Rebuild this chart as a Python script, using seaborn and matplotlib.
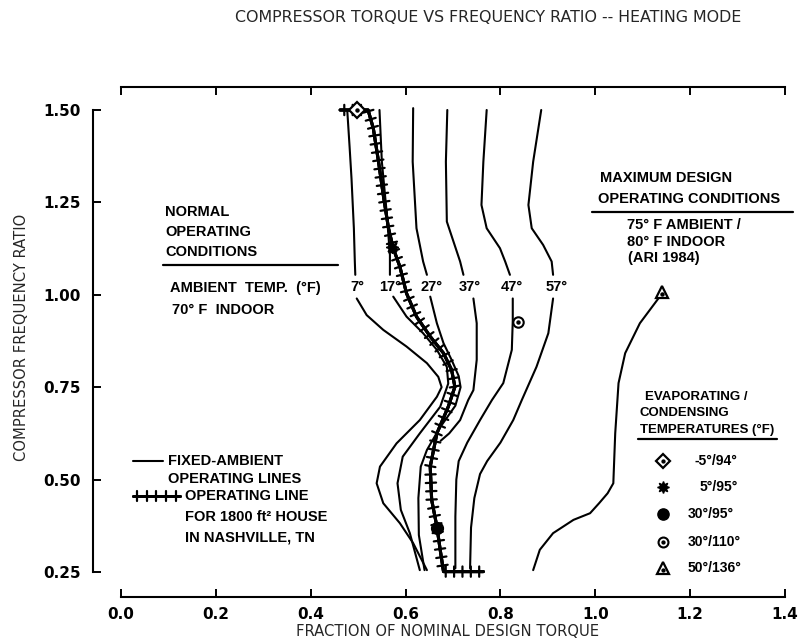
import matplotlib
matplotlib.use("Agg")
import matplotlib.pyplot as plt
import matplotlib.patheffects as pe
from matplotlib.lines import Line2D
import seaborn as sns

# ---------------------------------------------------------------- data
# fixed-ambient operating lines (fraction of nominal torque vs frequency ratio);
# each line is drawn in two pieces, broken where its temperature label sits
t7_up_x = [0.477, 0.482, 0.486, 0.491, 0.493, 0.494]
t7_up_y = [1.500, 1.400, 1.315, 1.180, 1.090, 1.054]
t7_lo_x = [0.497, 0.518, 0.553, 0.602, 0.645, 0.669, 0.676, 0.666, 0.630, 0.581,
           0.546, 0.539, 0.553, 0.588, 0.616, 0.645]
t7_lo_y = [0.990, 0.945, 0.905, 0.860, 0.815, 0.778, 0.750, 0.724, 0.661, 0.598,
           0.535, 0.490, 0.436, 0.382, 0.328, 0.255]

t17_up_x = [0.545, 0.550, 0.560, 0.567, 0.567]
t17_up_y = [1.500, 1.360, 1.225, 1.108, 1.054]
t17_lo_x = [0.574, 0.602, 0.637, 0.666, 0.687, 0.690, 0.673, 0.630, 0.594, 0.583,
            0.590, 0.609, 0.630]
t17_lo_y = [0.995, 0.941, 0.896, 0.851, 0.805, 0.760, 0.697, 0.625, 0.562, 0.490,
            0.418, 0.355, 0.255]

t27_up_x = [0.616, 0.615, 0.623, 0.637, 0.645]
t27_up_y = [1.505, 1.360, 1.180, 1.090, 1.054]
t27_lo_x = [0.652, 0.666, 0.680, 0.697, 0.712, 0.716, 0.705, 0.672, 0.645, 0.632,
            0.627, 0.628, 0.640]
t27_lo_y = [0.995, 0.923, 0.869, 0.824, 0.780, 0.750, 0.700, 0.640, 0.580, 0.535,
            0.450, 0.350, 0.255]

t37_up_x = [0.688, 0.685, 0.687, 0.701, 0.715, 0.722]
t37_up_y = [1.500, 1.360, 1.198, 1.144, 1.090, 1.054]
t37_lo_x = [0.743, 0.750, 0.750, 0.743, 0.732, 0.715, 0.692, 0.674]
t37_lo_y = [0.990, 0.923, 0.824, 0.742, 0.715, 0.661, 0.625, 0.605]

t47_up_x = [0.771, 0.764, 0.760, 0.771, 0.799, 0.810, 0.820]
t47_up_y = [1.500, 1.360, 1.243, 1.180, 1.126, 1.090, 1.054]
t47_lo_x = [0.826, 0.826, 0.824, 0.806, 0.782, 0.757, 0.730, 0.712, 0.707, 0.705,
            0.705]
t47_lo_y = [0.990, 0.930, 0.851, 0.761, 0.715, 0.661, 0.600, 0.550, 0.500, 0.400,
            0.260]

t57_up_x = [0.886, 0.869, 0.859, 0.866, 0.890, 0.908, 0.911]
t57_up_y = [1.500, 1.360, 1.243, 1.180, 1.135, 1.090, 1.054]
t57_lo_x = [0.911, 0.901, 0.876, 0.845, 0.827, 0.800, 0.772, 0.757, 0.745, 0.738,
            0.736]
t57_lo_y = [0.990, 0.896, 0.805, 0.715, 0.661, 0.600, 0.550, 0.515, 0.450, 0.370,
            0.260]

# maximum design condition line (75 F ambient / 80 F indoor)
max_x = [1.140, 1.133, 1.094, 1.063, 1.049, 1.042, 1.038, 1.026, 1.008, 0.989,
         0.954, 0.911, 0.883, 0.869]
max_y = [1.008, 0.990, 0.923, 0.842, 0.761, 0.625, 0.490, 0.463, 0.436, 0.409,
         0.391, 0.355, 0.310, 0.255]

# operating line for the 1800 ft2 house in Nashville
op_x = [0.462, 0.521, 0.532, 0.543, 0.553, 0.564, 0.574, 0.588, 0.602, 0.623,
        0.652, 0.680, 0.697, 0.704, 0.690, 0.666, 0.652, 0.655, 0.666, 0.673,
        0.680, 0.764]
op_y = [1.500, 1.500, 1.450, 1.360, 1.270, 1.180, 1.126, 1.076, 1.004, 0.941,
        0.887, 0.842, 0.797, 0.751, 0.697, 0.625, 0.535, 0.445, 0.373, 0.310,
        0.251, 0.251]

# evaporating / condensing temperature points
pt_labels = ["-5°/94°", "5°/95°", "30°/95°", "30°/110°", "50°/136°"]
pt_x = [0.497, 0.572, 0.667, 0.838, 1.140]
pt_y = [1.500, 1.130, 0.369, 0.927, 1.008]

amb_labels = ["7°", "17°", "27°", "37°", "47°", "57°"]
x_ticks = [0.0, 0.2, 0.4, 0.6, 0.8, 1.0, 1.2, 1.4]
x_tick_labels = ["0.0", "0.2", "0.4", "0.6", "0.8", "1.0", "1.2", "1.4"]
y_ticks = [0.25, 0.50, 0.75, 1.00, 1.25, 1.50]
y_tick_labels = ["0.25", "0.50", "0.75", "1.00", "1.25", "1.50"]

# ---------------------------------------------------------------- figure
W, H = 803, 644
sns.set_theme(style="white")
plt.rcParams["font.family"] = ["Liberation Sans", "DejaVu Sans"]

fig = plt.figure(figsize=(W / 100, H / 100), dpi=100)
fig.patch.set_facecolor("white")
ax = fig.add_axes([93 / W, (H - 597) / H, (790 - 93) / W, (597 - 87) / H])
ax.set_facecolor("white")
ax.set_xlim(-0.059, 1.4105)
ax.set_ylim(0.1823, 1.5622)


def fx(px):
    return px / W


def fy(py):
    return 1 - py / H


LW = 1.5
ink = "black"

segments = [
    (t7_up_x, t7_up_y), (t7_lo_x, t7_lo_y),
    (t17_up_x, t17_up_y), (t17_lo_x, t17_lo_y),
    (t27_up_x, t27_up_y), (t27_lo_x, t27_lo_y),
    (t37_up_x, t37_up_y), (t37_lo_x, t37_lo_y),
    (t47_up_x, t47_up_y), (t47_lo_x, t47_lo_y),
    (t57_up_x, t57_up_y), (t57_lo_x, t57_lo_y),
    (max_x, max_y),
]
for xs, ys in segments:
    sns.lineplot(x=xs, y=ys, sort=False, estimator=None, color=ink, lw=LW, ax=ax)

# operating line with cross-ties
ladder = [pe.withTickedStroke(spacing=6, angle=90, length=0.62, linewidth=1.6),
          pe.withTickedStroke(spacing=6, angle=-90, length=0.62, linewidth=1.6),
          pe.Normal()]
sns.lineplot(x=op_x, y=op_y, sort=False, estimator=None, color=ink, lw=2.2, ax=ax,
             path_effects=ladder)

# condition points
def draw_point(i, x, y, size=1.0):
    kw = dict(clip_on=False, zorder=5, ls="none")
    if i == 0:
        ax.plot(x, y, marker="D", ms=8 * size, mfc="white", mec=ink, mew=1.6, **kw)
        ax.plot(x, y, marker="o", ms=2.2 * size, color=ink, **kw)
    elif i == 1:
        ax.plot(x, y, marker=(8, 1, 0), ms=9 * size, color=ink, **kw)
    elif i == 2:
        ax.plot(x, y, marker="o", ms=8.5 * size, color=ink, **kw)
    elif i == 3:
        ax.plot(x, y, marker="o", ms=7.5 * size, mfc="white", mec=ink, mew=1.5, **kw)
        ax.plot(x, y, marker="o", ms=2.2 * size, color=ink, **kw)
    else:
        ax.plot(x, y, marker="^", ms=9 * size, mfc="white", mec=ink, mew=1.6, **kw)
        ax.plot(x, y - 0.006, marker="o", ms=2.2 * size, color=ink, **kw)


for i, (x, y) in enumerate(zip(pt_x, pt_y)):
    draw_point(i, x, y)

# ---------------------------------------------------------------- axes frame
for side in ["left", "bottom", "top"]:
    ax.spines[side].set_visible(True)
    ax.spines[side].set_color(ink)
    ax.spines[side].set_linewidth(1.5)
ax.spines["right"].set_visible(False)
ax.spines["left"].set_bounds(0.25, 1.5)
ax.spines["bottom"].set_bounds(0.0, 1.4)
ax.spines["top"].set_bounds(0.0, 1.4)

ax.set_xticks(x_ticks)
ax.set_xticklabels(x_tick_labels)
ax.set_yticks(y_ticks)
ax.set_yticklabels(y_tick_labels)
ax.tick_params(axis="x", direction="in", length=6, width=1.4, top=True,
               labeltop=False, bottom=True, pad=7, colors=ink, labelsize=11)
ax.tick_params(axis="y", direction="in", length=5.5, width=1.4, left=True,
               right=False, pad=9, colors=ink, labelsize=11)
for lbl in ax.get_xticklabels() + ax.get_yticklabels():
    lbl.set_fontfamily("DejaVu Sans")
    lbl.set_fontweight("bold")
ax.grid(False)

fig.text(fx(488), fy(18), "COMPRESSOR TORQUE VS FREQUENCY RATIO -- HEATING MODE",
         ha="center", va="center", fontsize=11.4, family="DejaVu Sans")
fig.text(fx(448), fy(632), "FRACTION OF NOMINAL DESIGN TORQUE",
         ha="center", va="center", fontsize=10.6, family="DejaVu Sans")
fig.text(fx(22), fy(337), "COMPRESSOR FREQUENCY RATIO", rotation=90,
         ha="center", va="center", fontsize=10.6, family="DejaVu Sans")

# ---------------------------------------------------------------- annotations
bold = dict(fontweight="bold", color=ink, va="center", ha="left")


def hline(x0, x1, y, lw=1.6):
    fig.add_artist(Line2D([fx(x0), fx(x1)], [fy(y), fy(y)], color=ink, lw=lw))


# normal operating conditions block
for txt, py in [("NORMAL", 212), ("OPERATING", 232), ("CONDITIONS", 252)]:
    fig.text(fx(165), fy(py), txt, fontsize=10.5, **bold)
hline(163, 338, 265)
fig.text(fx(170), fy(288), "AMBIENT  TEMP.  (°F)", fontsize=10.5, **bold)
fig.text(fx(172), fy(310), "70° F  INDOOR", fontsize=10.5, **bold)
for txt, px in zip(amb_labels, [357, 390, 432, 470, 512, 557]):
    fig.text(fx(px), fy(287), txt, fontsize=10.5, fontweight="bold",
             ha="center", va="center", color=ink)

# maximum design block
fig.text(fx(600), fy(178), "MAXIMUM DESIGN", fontsize=10.5, **bold)
fig.text(fx(598), fy(199), "OPERATING CONDITIONS", fontsize=10.5, **bold)
hline(592, 793, 212)
fig.text(fx(627), fy(225), "75° F AMBIENT /", fontsize=10.5, **bold)
fig.text(fx(627), fy(242), "80° F INDOOR", fontsize=10.5, **bold)
fig.text(fx(628), fy(258), "(ARI 1984)", fontsize=10.5, **bold)

# evaporating / condensing key
fig.text(fx(645), fy(397), "EVAPORATING /", fontsize=9.5, **bold)
fig.text(fx(640), fy(413), "CONDENSING", fontsize=9.5, **bold)
fig.text(fx(640), fy(430), "TEMPERATURES (°F)", fontsize=9.5, **bold)
hline(638, 777, 439)
key_y_px = [461, 487, 514, 542, 568]
key_lbl_px = [695, 700, 688, 688, 688]
for i, (lbl, py, lx) in enumerate(zip(pt_labels, key_y_px, key_lbl_px)):
    kx = (663 - 121) / 474.3
    ky = 1.5 - (py - 110) / 369.6
    draw_point(i, kx, ky, size=0.95)
    fig.text(fx(lx), fy(py), lbl, fontsize=10, **bold)

# line-type key
ax.plot([(133 - 121) / 474.3, (163 - 121) / 474.3],
        [1.5 - (461 - 110) / 369.6] * 2, color=ink, lw=LW, clip_on=False)
fig.text(fx(168), fy(461), "FIXED-AMBIENT", fontsize=10.5, **bold)
fig.text(fx(168), fy(479), "OPERATING LINES", fontsize=10.5, **bold)
ax.plot([(133 - 121) / 474.3, (180 - 121) / 474.3],
        [1.5 - (496 - 110) / 369.6] * 2, color=ink, lw=2.0, clip_on=False,
        path_effects=ladder)
fig.text(fx(185), fy(496), "OPERATING LINE", fontsize=10.5, **bold)
fig.text(fx(185), fy(517), "FOR 1800 ft² HOUSE", fontsize=10.5, **bold)
fig.text(fx(185), fy(537), "IN NASHVILLE, TN", fontsize=10.5, **bold)

fig.savefig("out.png", dpi=100, facecolor="white")
